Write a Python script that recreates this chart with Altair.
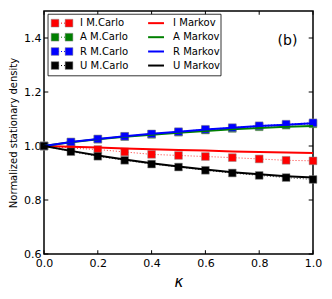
import altair as alt
import pandas as pd

kappa = [0.0, 0.1, 0.2, 0.3, 0.4, 0.5, 0.6, 0.7, 0.8, 0.9, 1.0]

i_mc = [1.0, 0.992, 0.987, 0.978, 0.969, 0.965, 0.961, 0.957, 0.952, 0.947, 0.945]
a_mc = [1.0, 1.014, 1.025, 1.035, 1.043, 1.051, 1.059, 1.065, 1.071, 1.077, 1.082]
r_mc = [1.0, 1.015, 1.026, 1.036, 1.045, 1.053, 1.062, 1.068, 1.075, 1.081, 1.086]
u_mc = [1.0, 0.979, 0.962, 0.947, 0.933, 0.922, 0.910, 0.900, 0.891, 0.883, 0.876]

i_mk = [1.0, 0.997, 0.994, 0.991, 0.988, 0.985, 0.983, 0.980, 0.978, 0.976, 0.974]
a_mk = [1.0, 1.014, 1.025, 1.034, 1.042, 1.049, 1.056, 1.062, 1.067, 1.071, 1.074]
r_mk = [1.0, 1.015, 1.026, 1.036, 1.045, 1.053, 1.061, 1.068, 1.074, 1.079, 1.084]
u_mk = [1.0, 0.982, 0.965, 0.950, 0.936, 0.924, 0.913, 0.903, 0.895, 0.888, 0.883]

series = ["I", "A", "R", "U"]
colors = ["#ff0000", "#008000", "#0000ff", "#000000"]
mc_labels = ["I M.Carlo", "A M.Carlo", "R M.Carlo", "U M.Carlo"]
mk_labels = ["I Markov", "A Markov", "R Markov", "U Markov"]

x_ticks = [0.0, 0.2, 0.4, 0.6, 0.8, 1.0]
y_ticks = [0.6, 0.8, 1.0, 1.2, 1.4]

mc_rows, mk_rows = [], []
for s, mc, mk in zip(series, [i_mc, a_mc, r_mc, u_mc], [i_mk, a_mk, r_mk, u_mk]):
    for k, v1, v2 in zip(kappa, mc, mk):
        mc_rows.append({"s": s, "k": k, "v": v1})
        mk_rows.append({"s": s, "k": k, "v": v2})
mc_df = pd.DataFrame(mc_rows)
mk_df = pd.DataFrame(mk_rows)

xs = alt.Scale(domain=[0, 1], nice=False, zero=False)
ys = alt.Scale(domain=[0.6, 1.5], nice=False, zero=False)
cs = alt.Scale(domain=series, range=colors)
FONT = "DejaVu Sans"

XA = alt.Axis(values=x_ticks, format=".1f", ticks=False, domain=False,
              grid=False, labelFontSize=11, labelFont=FONT, labelColor="black",
              labelPadding=3, title="κ", titleFont=FONT, titleFontStyle="italic",
              titleFontWeight="normal", titleFontSize=15, titlePadding=6, titleColor="black",
              labelFlush=False)
YA = alt.Axis(values=y_ticks, format=".1f", ticks=False, domain=False,
              grid=False, labelFontSize=11, labelFont=FONT, labelColor="black",
              labelPadding=3, title="Normalized stationary density", titleColor="black",
              titleFont=FONT, titleFontWeight="normal", titleFontSize=10,
              titlePadding=5, labelFlush=False)


def X(f):
    return alt.X(f, scale=xs, axis=XA)


def Y(f):
    return alt.Y(f, scale=ys, axis=YA)


mc_line = alt.Chart(mc_df).mark_line(strokeDash=[1, 2], strokeWidth=1, opacity=0.8).encode(
    x=X("k:Q"), y=Y("v:Q"),
    color=alt.Color("s:N", scale=cs, legend=None), detail="s:N")
mc_pts = alt.Chart(mc_df).mark_point(shape="square", filled=True, size=60, opacity=1,
                                     stroke="#888888", strokeWidth=0.5).encode(
    x=X("k:Q"), y=Y("v:Q"),
    fill=alt.Fill("s:N", scale=cs, legend=None))
mk_line = alt.Chart(mk_df).mark_line(strokeWidth=2).encode(
    x=X("k:Q"), y=Y("v:Q"),
    color=alt.Color("s:N", scale=cs, legend=None), detail="s:N")

# inward ticks
tl_x = 0.016
tl_y = 0.014
tick_rows = []
for t in x_ticks:
    tick_rows.append({"x": t, "x2": t, "y": 0.6, "y2": 0.6 + tl_y})
    tick_rows.append({"x": t, "x2": t, "y": 1.5, "y2": 1.5 - tl_y})
for t in y_ticks:
    tick_rows.append({"x": 0.0, "x2": tl_x, "y": t, "y2": t})
    tick_rows.append({"x": 1.0, "x2": 1.0 - tl_x, "y": t, "y2": t})
ticks = alt.Chart(pd.DataFrame(tick_rows)).mark_rule(color="black", strokeWidth=1).encode(
    x=X("x:Q"), x2="x2:Q", y=Y("y:Q"), y2="y2:Q")

# legend
leg_rows_y = [1.455, 1.403, 1.350, 1.298]
box = alt.Chart(pd.DataFrame({"x": [0.015], "x2": [0.658], "y": [1.488], "y2": [1.260]})).mark_rect(
    fill="white", stroke="black", strokeWidth=0.8).encode(
    x=X("x:Q"), x2="x2:Q", y=Y("y:Q"), y2="y2:Q")

leg_df = pd.DataFrame({"s": series, "y": leg_rows_y, "mc": mc_labels, "mk": mk_labels,
                       "a": [0.041] * 4, "b": [0.093] * 4, "c": [0.387] * 4, "d": [0.446] * 4,
                       "t1": [0.134] * 4, "t2": [0.480] * 4})
leg_dot = alt.Chart(leg_df).mark_rule(strokeDash=[1, 2], strokeWidth=1).encode(
    x=X("a:Q"), x2="b:Q", y=Y("y:Q"),
    color=alt.Color("s:N", scale=cs, legend=None))
leg_sq1 = alt.Chart(leg_df).mark_point(shape="square", filled=True, size=60, opacity=1,
                                       stroke="#888888", strokeWidth=0.5).encode(
    x=X("a:Q"), y=Y("y:Q"),
    fill=alt.Fill("s:N", scale=cs, legend=None))
leg_sq2 = alt.Chart(leg_df).mark_point(shape="square", filled=True, size=60, opacity=1,
                                       stroke="#888888", strokeWidth=0.5).encode(
    x=X("b:Q"), y=Y("y:Q"),
    fill=alt.Fill("s:N", scale=cs, legend=None))
leg_t1 = alt.Chart(leg_df).mark_text(align="left", baseline="middle", fontSize=10, font=FONT,
                                     color="black").encode(
    x=X("t1:Q"), y=Y("y:Q"), text="mc:N")
leg_ln = alt.Chart(leg_df).mark_rule(strokeWidth=2).encode(
    x=X("c:Q"), x2="d:Q", y=Y("y:Q"),
    color=alt.Color("s:N", scale=cs, legend=None))
leg_t2 = alt.Chart(leg_df).mark_text(align="left", baseline="middle", fontSize=10, font=FONT,
                                     color="black").encode(
    x=X("t2:Q"), y=Y("y:Q"), text="mk:N")

panel = alt.Chart(pd.DataFrame({"x": [0.905], "y": [1.39], "t": ["(b)"]})).mark_text(
    fontSize=14, font=FONT, color="black", baseline="middle", align="center").encode(
    x=X("x:Q"), y=Y("y:Q"), text="t:N")

chart = alt.layer(mc_line, mc_pts, mk_line, ticks, box, leg_dot, leg_sq1, leg_sq2,
                  leg_t1, leg_ln, leg_t2, panel).properties(
    width=269, height=243,
    autosize=alt.AutoSizeParams(type="none"),
    padding={"left": 36, "top": 3, "right": 11, "bottom": 37},
    background="white",
).configure_view(stroke="black", strokeWidth=1.5)

chart.save("out.html", embed_options={"renderer": "svg", "actions": False})
